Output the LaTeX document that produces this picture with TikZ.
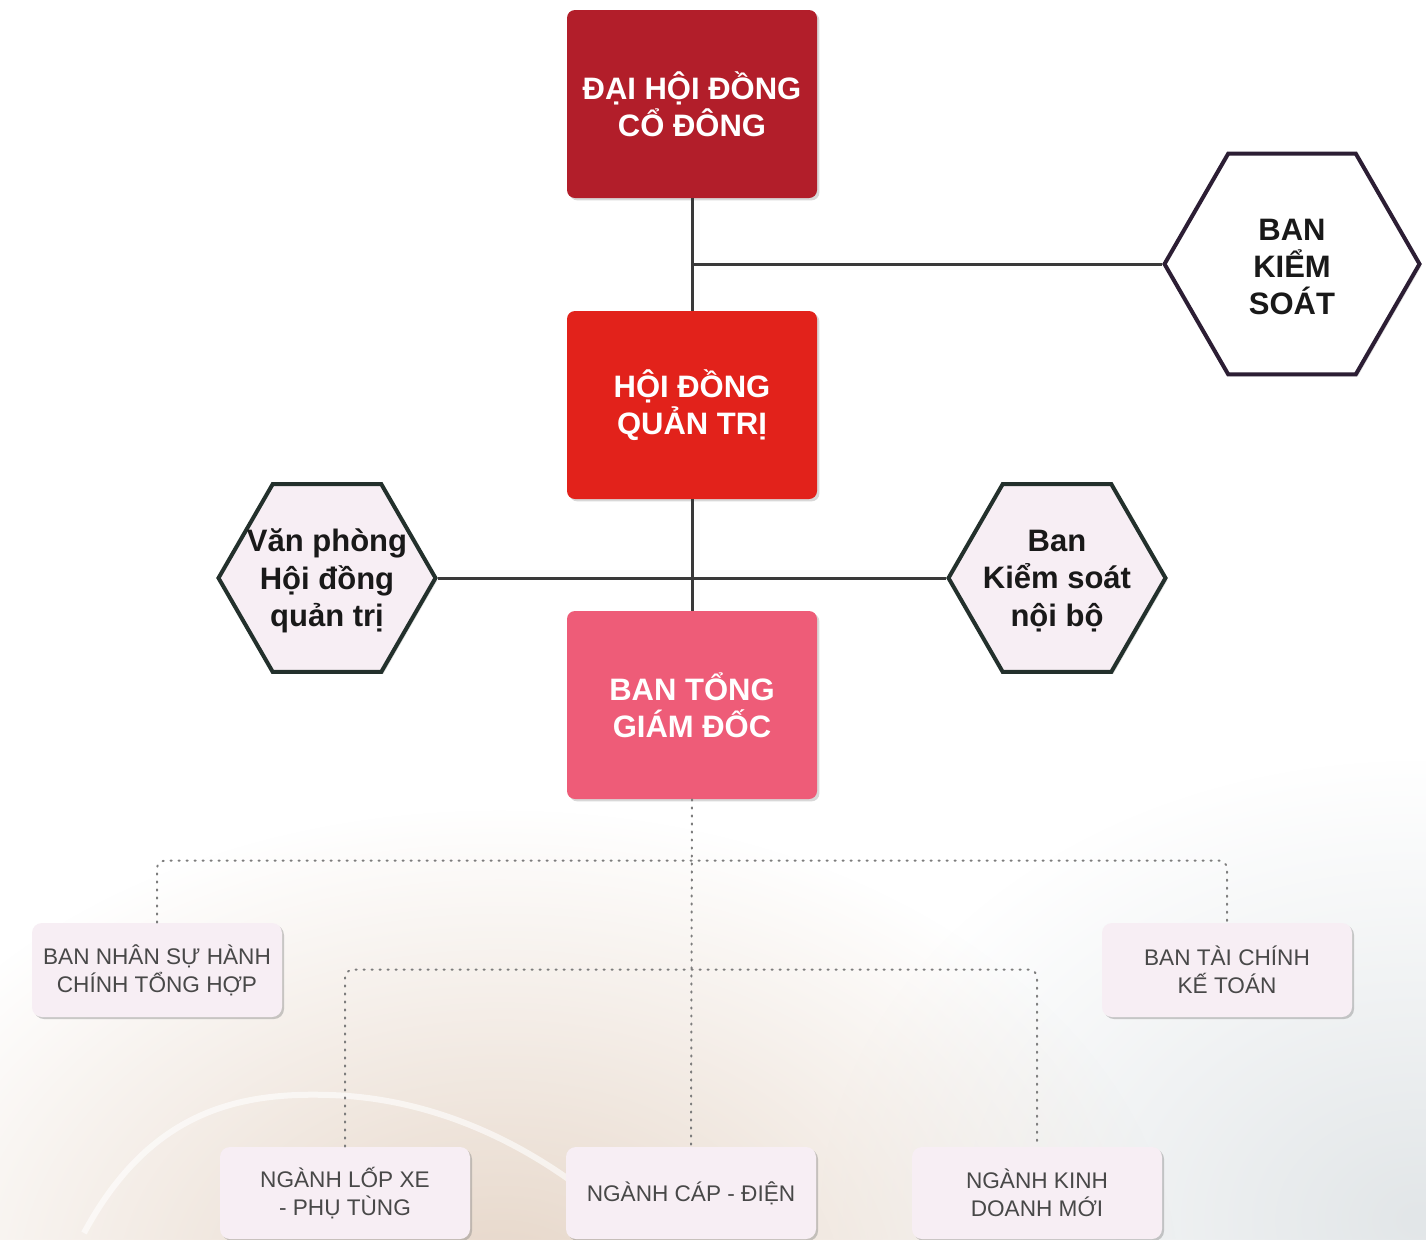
\documentclass[tikz,border=0pt]{standalone}
\usepackage{fontspec}
\setmainfont{Liberation Sans}
\usetikzlibrary{shapes.geometric,shadows,fadings}
\definecolor{red1}{RGB}{178,30,42}
\definecolor{red2}{RGB}{226,34,27}
\definecolor{pink2}{RGB}{238,92,120}
\definecolor{pink4}{RGB}{247,238,244}
\definecolor{hexline}{RGB}{35,48,44}
\definecolor{purple1}{RGB}{44,30,52}
\definecolor{gray1}{RGB}{72,72,72}
\definecolor{gray2}{RGB}{58,58,58}
\definecolor{gray3}{RGB}{125,125,125}
\definecolor{beige4}{RGB}{230,214,200}
\definecolor{mist4}{RGB}{226,230,232}
\tikzfading[name=softspot, inner color=transparent!0, outer color=transparent!100]

\begin{document}
\begin{tikzpicture}[x=0.5pt, y=-0.5pt,
				bigbox/.style=		{rectangle, rounded corners=4pt, minimum width=125pt, minimum height=94pt, align=center, text=white, font=\bfseries\fontsize{15.5}{18.7}\selectfont, drop shadow={shadow xshift=1.2pt, shadow yshift=-1.2pt, opacity=0.3}},
				hexbox/.style=		{regular polygon, regular polygon sides=6, inner sep=0pt, line width=2pt, fill=pink4, draw=hexline, drop shadow={shadow xshift=1pt, shadow yshift=-1pt, opacity=0.25}},
				hextext/.style=		{align=center, text=black!90, yshift=-1.5pt, font=\bfseries\fontsize{15.5}{18.7}\selectfont},
				unitbox/.style=		{rectangle, rounded corners=5pt, fill=pink4, minimum width=125pt, minimum height=47pt, align=center, text=gray1, font=\fontsize{11.3}{14}\selectfont, drop shadow={shadow xshift=1pt, shadow yshift=-1pt, opacity=0.4}},
				link/.style=		{draw=gray2, line width=1.5pt},
				dotlink/.style=		{draw=gray3, line width=1pt, line cap=round, dash pattern=on 0.6pt off 3.4pt, rounded corners=4pt}]
	\useasboundingbox (0,0) rectangle (1426,1239);

	% soft background at the bottom
	\begin{scope}
		\clip (0,0) rectangle (1426,1239);
		\fill[white] (0,0) rectangle (1426,1239);
		\fill[mist4, path fading=softspot] (1420,1220) ellipse [x radius=300pt, y radius=230pt];
		\fill[beige4, path fading=softspot] (500,1290) ellipse [x radius=340pt, y radius=240pt];
		\draw[white, line width=3pt, opacity=0.6] (84,1233) .. controls (150,1110) and (240,1092) .. (330,1095) .. controls (430,1098) and (530,1140) .. (620,1220);
	\end{scope}

	% top of the chart
	\node[bigbox, fill=red1] (dhdcd) at (692,104) {ĐẠI HỘI ĐỒNG\\CỔ ĐÔNG};
	\node[bigbox, fill=red2] (hdqt) at (692,405) {HỘI ĐỒNG\\QUẢN TRỊ};
	\node[bigbox, fill=pink2] (btgd) at (692,705) {BAN TỔNG\\GIÁM ĐỐC};

	\node[hexbox, minimum size=127.5pt, fill=white, draw=purple1, label={[hextext]center:{BAN\\KIỂM\\SOÁT}}] (bks) at (1292,264) {};
	\node[hexbox, minimum size=108.5pt, label={[hextext]center:{Văn phòng\\Hội đồng\\quản trị}}] (vp) at (327,578) {};
	\node[hexbox, minimum size=108.5pt, label={[hextext]center:{Ban\\Kiểm soát\\nội bộ}}] (ksnb) at (1057,578) {};

	% units
	\node[unitbox] (nhansu) at (157,970) {BAN NHÂN SỰ HÀNH\\CHÍNH TỔNG HỢP};
	\node[unitbox] (taichinh) at (1227,970) {BAN TÀI CHÍNH\\KẾ TOÁN};
	\foreach \x/\name/\txt in {345/lopxe/{NGÀNH LỐP XE\\- PHỤ TÙNG}, 691/capdien/{NGÀNH CÁP - ĐIỆN}, 1037/kinhdoanh/{NGÀNH KINH\\DOANH MỚI}}
		\node[unitbox, minimum height=46pt] (\name) at (\x,1193) {\txt};

	\coordinate (bksjoin) at (dhdcd.south |- bks.west);
	\draw[link] (dhdcd) -- (hdqt);
	\draw[link] (hdqt) -- (btgd);
	\draw[link] (bksjoin) -- (bks.west);
	\draw[link] (vp.east) -- (ksnb.west);

	\draw[dotlink] (btgd.south) -- (capdien.north);
	\draw[dotlink] (nhansu.north) -- ++(0,-62) -| (taichinh.north);
	\draw[dotlink] (lopxe.north) -- ++(0,-177) -| (kinhdoanh.north);
\end{tikzpicture}
\end{document}
